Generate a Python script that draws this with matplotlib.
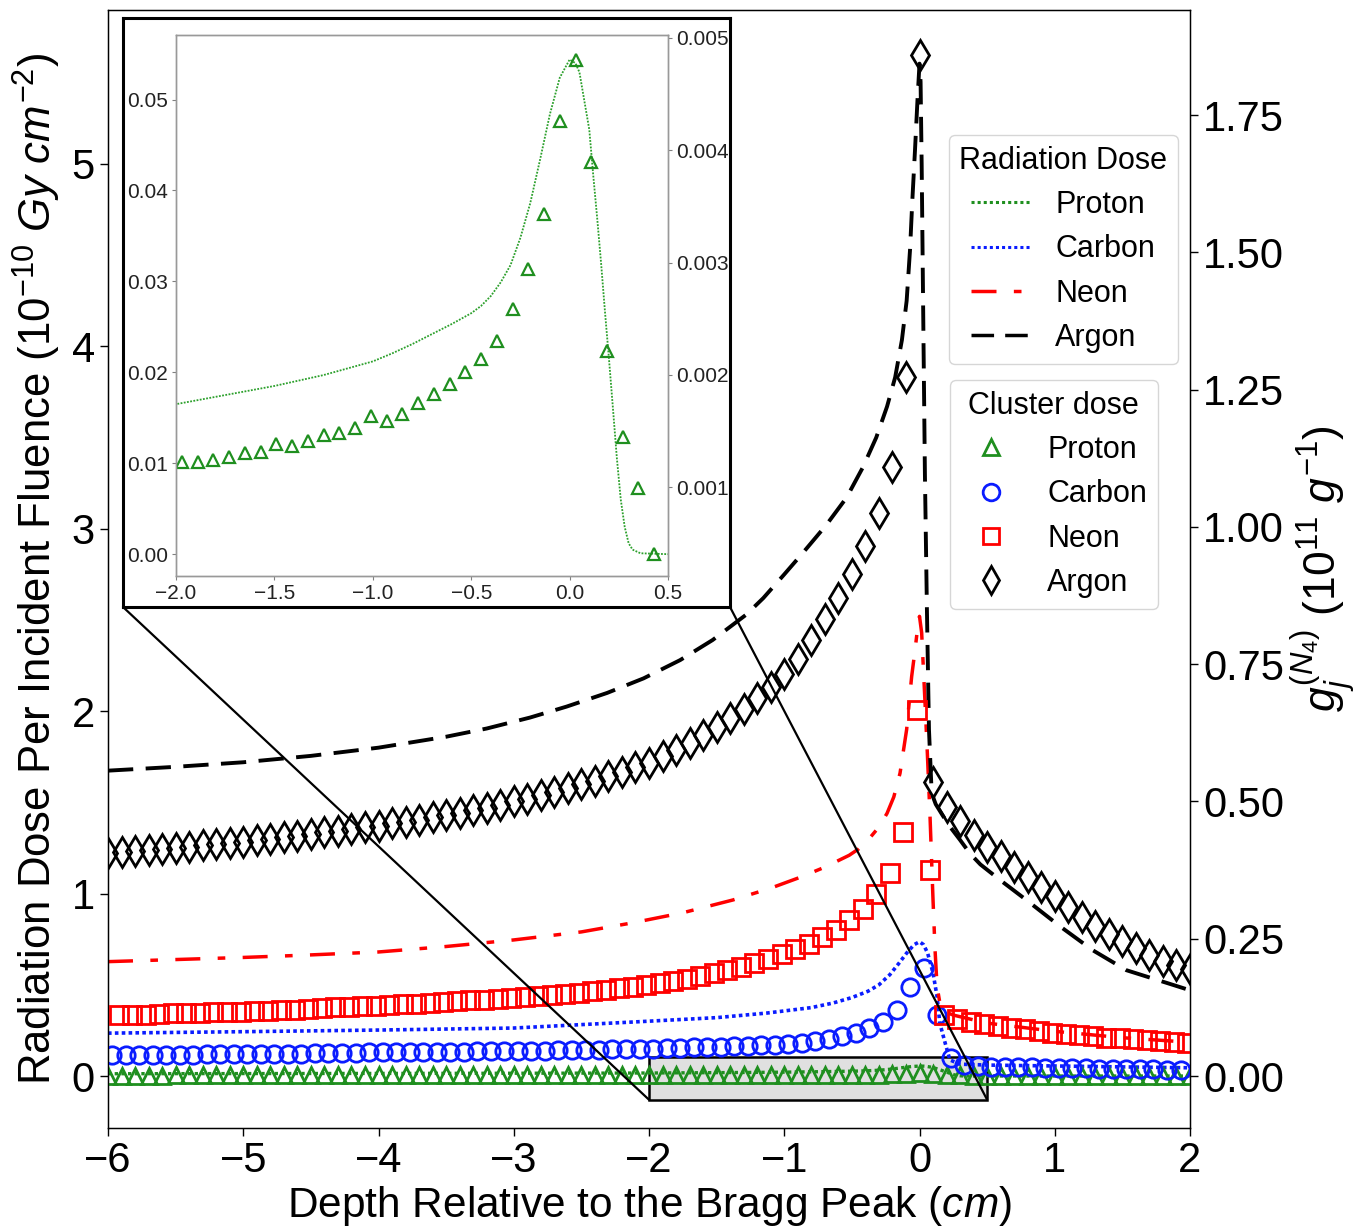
import numpy as np
import matplotlib
matplotlib.use('Agg')
import matplotlib.pyplot as plt
from matplotlib.patches import Rectangle, ConnectionPatch
from matplotlib.lines import Line2D
from matplotlib.ticker import FormatStrFormatter, FuncFormatter

plt.rcParams['font.family'] = ['Liberation Sans', 'DejaVu Sans']
plt.rcParams['mathtext.fontset'] = 'custom'
plt.rcParams['mathtext.rm'] = 'Liberation Sans'
plt.rcParams['mathtext.it'] = 'Liberation Sans:italic'
plt.rcParams['mathtext.bf'] = 'Liberation Sans:bold'

# ---------------- Radiation dose curves (left axis, 1e-10 Gy cm^-2) ----------------
proton_dose_x = [-6.0, -5.0, -4.0, -3.0, -2.5, -2.0, -1.75, -1.5, -1.25, -1.0, -0.9, -0.8,
                 -0.7, -0.6, -0.5, -0.45, -0.4, -0.35, -0.3, -0.25, -0.2, -0.15, -0.1, -0.05,
                 0.0, 0.03, 0.05, 0.1, 0.12, 0.14, 0.16, 0.18, 0.2, 0.22, 0.24, 0.26, 0.28,
                 0.3, 0.32, 0.36, 0.5, 1.0, 2.0]
proton_dose_y = [0.0125, 0.0134, 0.0143, 0.0152, 0.0158, 0.0165, 0.0175, 0.0185, 0.0197, 0.0212,
                 0.0221, 0.0231, 0.0242, 0.0253, 0.0265, 0.0273, 0.0284, 0.0299, 0.0318, 0.0348,
                 0.0386, 0.0434, 0.0484, 0.0524, 0.0544, 0.0540, 0.0530, 0.0467, 0.0417, 0.0370,
                 0.0320, 0.0266, 0.0215, 0.0161, 0.0106, 0.0060, 0.0030, 0.0012, 0.0005, 0.0001,
                 0.0, 0.0, 0.0]

carbon_dose_x = [-6.0, -5.0, -4.0, -3.0, -2.12, -1.5, -1.13, -0.8, -0.64, -0.5, -0.38, -0.3,
                 -0.22, -0.15, -0.095, -0.04, 0.0, 0.03, 0.06, 0.1, 0.13, 0.15, 0.19, 0.225,
                 0.3, 0.5, 1.0, 1.5, 2.0]
carbon_dose_y = [0.235, 0.243, 0.252, 0.263, 0.296, 0.320, 0.345, 0.375, 0.400, 0.430, 0.465, 0.500,
                 0.555, 0.620, 0.674, 0.720, 0.736, 0.720, 0.674, 0.565, 0.435, 0.290, 0.180, 0.088,
                 0.065, 0.060, 0.055, 0.050, 0.045]

neon_dose_x = [-6.0, -5.0, -4.53, -4.0, -3.5, -3.0, -2.5, -2.12, -1.75, -1.38, -1.1, -0.88,
               -0.7, -0.52, -0.45, -0.38, -0.3, -0.24, -0.19, -0.144, -0.095, -0.058, -0.033,
               -0.012, 0.0, 0.016, 0.04, 0.058, 0.078, 0.1, 0.115, 0.13, 0.16, 0.25, 0.5, 1.0,
               1.5, 2.0]
neon_dose_y = [0.627, 0.650, 0.663, 0.680, 0.710, 0.746, 0.790, 0.840, 0.895, 0.965, 1.030, 1.090,
               1.145, 1.210, 1.245, 1.294, 1.365, 1.440, 1.530, 1.660, 1.900, 2.190, 2.335,
               2.470, 2.520, 2.430, 2.060, 1.770, 1.420, 0.965, 0.690, 0.490, 0.360, 0.334, 0.290,
               0.245, 0.210, 0.185]

argon_dose_x = [-6.0, -5.5, -5.0, -4.5, -4.0, -3.5, -3.2, -2.88, -2.61, -2.31, -2.04, -1.77,
                -1.53, -1.28, -1.155, -1.0, -0.86, -0.69, -0.54, -0.42, -0.32, -0.24, -0.18,
                -0.13, -0.095, -0.07, -0.053, -0.033, -0.015, 0.0, 0.008, 0.016, 0.03, 0.04,
                0.055, 0.07, 0.09, 0.12, 0.17, 0.225, 0.3, 0.373, 0.45, 0.595, 0.79, 1.04,
                1.28, 1.53, 1.83, 2.0]
argon_dose_y = [1.674, 1.695, 1.720, 1.755, 1.800, 1.860, 1.905, 1.965, 2.025, 2.100, 2.180, 2.280,
                2.390, 2.530, 2.620, 2.750, 2.870, 3.020, 3.170, 3.335, 3.500, 3.670, 3.830,
                4.035, 4.250, 4.530, 4.800, 5.080, 5.350, 5.550, 5.450, 5.000, 4.000, 3.300,
                2.550, 1.900, 1.550, 1.490, 1.430, 1.367, 1.294, 1.220, 1.160, 1.075, 0.965, 0.820,
                0.690, 0.580, 0.510, 0.470]

# ---------------- Cluster dose markers (right axis, 1e11 g^-1) ----------------
# Argon: depths -6.0 ... 2.0 in steps of 0.1
argon_cluster = [
    0.406, 0.408, 0.410, 0.412, 0.414, 0.416, 0.418, 0.420, 0.423, 0.425,
    0.427, 0.430, 0.432, 0.435, 0.438, 0.441, 0.444, 0.447, 0.450, 0.453,
    0.456, 0.460, 0.463, 0.467, 0.471, 0.475, 0.479, 0.484, 0.489, 0.494,
    0.500, 0.505, 0.511, 0.517, 0.524, 0.531, 0.538, 0.546, 0.554, 0.562,
    0.571, 0.582, 0.594, 0.607, 0.621, 0.636, 0.652, 0.669, 0.688, 0.709,
    0.732, 0.760, 0.795, 0.832, 0.870, 0.915, 0.965, 1.025, 1.110, 1.273,
    1.860, 0.536, 0.490, 0.465, 0.439, 0.418, 0.400, 0.381, 0.363, 0.345,
    0.327, 0.308, 0.290, 0.273, 0.259, 0.246, 0.233, 0.221, 0.210, 0.202,
    0.194]
argon_start = -6.0
# Neon: depths -5.92 ... 1.98 in steps of 0.1
neon_cluster = [
    0.111, 0.112, 0.112, 0.113, 0.114, 0.114, 0.115, 0.116, 0.116, 0.117,
    0.118, 0.119, 0.120, 0.121, 0.122, 0.124, 0.125, 0.126, 0.127, 0.128,
    0.129, 0.131, 0.132, 0.133, 0.135, 0.136, 0.138, 0.139, 0.141, 0.142,
    0.144, 0.146, 0.148, 0.150, 0.152, 0.155, 0.157, 0.160, 0.163, 0.166,
    0.169, 0.173, 0.177, 0.182, 0.187, 0.193, 0.199, 0.206, 0.214, 0.222,
    0.231, 0.241, 0.253, 0.266, 0.284, 0.304, 0.332, 0.370, 0.445, 0.667,
    0.375, 0.111, 0.104, 0.098, 0.094, 0.091, 0.088, 0.085, 0.082, 0.079,
    0.076, 0.074, 0.072, 0.070, 0.069, 0.067, 0.066, 0.064, 0.062, 0.060]
neon_start = -5.92
# Carbon: depths -5.97 ... 1.93 in steps of 0.1
carbon_cluster = [
    0.038, 0.038, 0.038, 0.039, 0.039, 0.039, 0.039, 0.040, 0.040, 0.040,
    0.040, 0.041, 0.041, 0.041, 0.041, 0.042, 0.042, 0.042, 0.042, 0.043,
    0.043, 0.043, 0.043, 0.044, 0.044, 0.044, 0.044, 0.045, 0.045, 0.045,
    0.046, 0.046, 0.046, 0.047, 0.047, 0.048, 0.048, 0.049, 0.049, 0.050,
    0.050, 0.051, 0.051, 0.052, 0.052, 0.053, 0.054, 0.055, 0.056, 0.057,
    0.059, 0.061, 0.064, 0.067, 0.072, 0.078, 0.087, 0.099, 0.120, 0.163,
    0.196, 0.111, 0.033, 0.020, 0.018, 0.017, 0.017, 0.016, 0.016, 0.015,
    0.015, 0.014, 0.014, 0.013, 0.013, 0.013, 0.012, 0.012, 0.011, 0.011]
carbon_start = -5.97
# Proton: depths -6.0 ... 2.0 in steps of 0.1
proton_cluster = [
    0.00090, 0.00091, 0.00092, 0.00092, 0.00093, 0.00094, 0.00094, 0.00095, 0.00096, 0.00096,
    0.00097, 0.00098, 0.00098, 0.00099, 0.00100, 0.00101, 0.00101, 0.00102, 0.00103, 0.00104,
    0.00104, 0.00105, 0.00106, 0.00107, 0.00108, 0.00109, 0.00110, 0.00111, 0.00112, 0.00113,
    0.00114, 0.00115, 0.00116, 0.00117, 0.00118, 0.00119, 0.00120, 0.00120, 0.00121, 0.00122,
    0.00122, 0.00124, 0.00126, 0.00130, 0.00131, 0.00137, 0.00137, 0.00141, 0.00146, 0.00150,
    0.00163, 0.00159, 0.00165, 0.00177, 0.00190, 0.00205, 0.00225, 0.00262, 0.00300, 0.00380,
    0.00480, 0.00410, 0.00240, 0.00110, 0.00050, 0.00020, 0.00012, 0.00010, 0.00009, 0.00008,
    0.00008, 0.00007, 0.00007, 0.00006, 0.00006, 0.00006, 0.00005, 0.00005, 0.00005, 0.00005,
    0.00004]
proton_start = -6.0
# Inset proton cluster dose: depths -1.97 ... 0.43 in steps of 0.08
inset_proton_cluster = [
    0.001222, 0.001229, 0.001246, 0.001270, 0.001304, 0.001314, 0.001382, 0.001365,
    0.001409, 0.001463, 0.001487, 0.001528, 0.001630, 0.001593, 0.001650, 0.001752,
    0.001827, 0.001922, 0.002027, 0.002139, 0.002302, 0.002587, 0.002944, 0.003430,
    0.004258, 0.004801, 0.003895, 0.002214, 0.001450, 0.000992, 0.000407]
inset_start = -1.97
inset_step = 0.08

main_ticks_x = [-6, -5, -4, -3, -2, -1, 0, 1, 2]
main_ticks_left = [0, 1, 2, 3, 4, 5]
main_ticks_right = [0.0, 0.25, 0.5, 0.75, 1.0, 1.25, 1.5, 1.75]
inset_ticks_x = [-2.0, -1.5, -1.0, -0.5, 0.0, 0.5]
inset_ticks_left = [0.0, 0.01, 0.02, 0.03, 0.04, 0.05]
inset_ticks_right = [0.001, 0.002, 0.003, 0.004, 0.005]
species = ['Proton', 'Carbon', 'Neon', 'Argon']


def grid(start, n, step=0.1):
    return np.round(start + step * np.arange(n), 3)


def fmt(nd):
    return FuncFormatter(lambda v, p: f'{v:.{nd}f}'.replace('-', '\u2212'))


GREEN = '#1f8f1f'
BLUE = '#0a1cff'
RED = '#ff0000'
BLACK = '#000000'
NEON_DASH = (0, (7.2, 5.0, 2.2, 5.0))
ARGON_DASH = (0, (6.5, 3.2))

W, H = 1365, 1226
fig = plt.figure(figsize=(W / 100, H / 100), dpi=100)
ax = fig.add_axes([108 / W, 1 - 1128 / H, (1190 - 108) / W, (1128 - 10) / H])
ax2 = ax.twinx()

ax.plot(proton_dose_x, proton_dose_y, color=GREEN, lw=2.4, ls=(0, (1, 1)), zorder=2)
ax.plot(carbon_dose_x, carbon_dose_y, color=BLUE, lw=2.6, ls=(0, (1, 0.9)), zorder=2)
ax.plot(neon_dose_x, neon_dose_y, color=RED, lw=2.5, ls=NEON_DASH, zorder=2)
ax.plot(argon_dose_x, argon_dose_y, color=BLACK, lw=2.8, ls=ARGON_DASH, zorder=2)

ax.add_patch(Rectangle((-2.0, -0.13), 2.5, 0.233, facecolor='#e0e0e0', edgecolor='black',
                       lw=1.8, zorder=1.5))

ax.set_xlim(-6, 2)
ax.set_ylim(-0.285, 5.844)
ax2.set_ylim(-0.285 / 3.01, 5.844 / 3.01)

mk = dict(ls='none', mfc='none')
ax2.plot(grid(proton_start, len(proton_cluster)), proton_cluster, marker='^', ms=12,
         mec=GREEN, mew=2, **mk)
ax2.plot(grid(carbon_start, len(carbon_cluster)), carbon_cluster, marker='o', ms=12.5,
         mec=BLUE, mew=2, **mk)
ax2.plot(grid(neon_start, len(neon_cluster)), neon_cluster, marker='s', ms=13.5,
         mec=RED, mew=2, **mk)
ax2.plot(grid(argon_start, len(argon_cluster)), argon_cluster, marker='d', ms=15,
         mec=BLACK, mew=2, **mk)

ax.set_xticks(main_ticks_x)
ax.set_yticks(main_ticks_left)
ax2.set_yticks(main_ticks_right)
ax2.yaxis.set_major_formatter(FormatStrFormatter('%.2f'))
for a in (ax, ax2):
    a.tick_params(labelsize=30, length=6, width=1)
for s in ax.spines.values():
    s.set_linewidth(1.0)

ax.set_xlabel('Depth Relative to the Bragg Peak ($cm$)', fontsize=30.5, labelpad=2)
ax.set_ylabel('Radiation Dose Per Incident Fluence ($10^{-10}$ $Gy$ $cm^{-2}$)', fontsize=31.5,
              labelpad=6)
ax2.set_ylabel('$g_j^{(N_4)}$ ($10^{11}$ $g^{-1}$)', fontsize=32, labelpad=3)

# legends
line_handles = [
    Line2D([], [], color=GREEN, lw=2.2, ls=(0, (1, 1))),
    Line2D([], [], color=BLUE, lw=2.2, ls=(0, (1, 1))),
    Line2D([], [], color=RED, lw=2.5, ls=NEON_DASH),
    Line2D([], [], color=BLACK, lw=2.5, ls=ARGON_DASH),
]
leg1 = ax2.legend(line_handles, species, title='Radiation Dose', loc='upper right',
                  bbox_to_anchor=((1178 - 108) / 1082, (1128 - 135) / 1118), fontsize=22,
                  title_fontsize=22, handlelength=2.0, handletextpad=0.75, labelspacing=0.47,
                  borderpad=0.35, borderaxespad=0)
ax2.add_artist(leg1)
marker_handles = [
    Line2D([], [], ls='none', marker='^', ms=12, mfc='none', mec=GREEN, mew=2),
    Line2D([], [], ls='none', marker='o', ms=12, mfc='none', mec=BLUE, mew=2),
    Line2D([], [], ls='none', marker='s', ms=12, mfc='none', mec=RED, mew=2),
    Line2D([], [], ls='none', marker='d', ms=14, mfc='none', mec=BLACK, mew=2),
]
leg2 = ax2.legend(marker_handles, species, title='Cluster dose', loc='upper right',
                  bbox_to_anchor=((1158 - 108) / 1082, (1128 - 380) / 1118), fontsize=22,
                  title_fontsize=22, handlelength=2.0, handletextpad=0.85, labelspacing=0.47,
                  borderpad=0.35, borderaxespad=0)

# inset frame
frame = fig.add_axes([123 / W, 1 - 607 / H, (730 - 123) / W, (607 - 18) / H])
frame.set_xticks([])
frame.set_yticks([])
frame.set_facecolor('white')
for s in frame.spines.values():
    s.set_linewidth(2.2)
    s.set_color('black')

axins = fig.add_axes([176 / W, 1 - 576 / H, (668 - 176) / W, (576 - 35) / H])
axins.plot(proton_dose_x, proton_dose_y, color='#2ca02c', lw=1.3, ls=(0, (1, 0.8)))
axins.set_xlim(-2.0, 0.5)
axins.set_ylim(-0.0024, 0.0571)
axins2 = axins.twinx()
axins2.plot(grid(inset_start, len(inset_proton_cluster), inset_step), inset_proton_cluster,
            ls='none', marker='^', ms=9, mfc='none', mec=GREEN, mew=1.6)
axins2.set_ylim(0.00021, 0.005026)
axins.set_xticks(inset_ticks_x)
axins.set_yticks(inset_ticks_left)
axins2.set_yticks(inset_ticks_right)
axins.xaxis.set_major_formatter(fmt(1))
axins.yaxis.set_major_formatter(fmt(2))
axins2.yaxis.set_major_formatter(fmt(3))
for a in (axins, axins2):
    a.tick_params(labelsize=15, length=3, width=0.8, color='0.5', labelcolor='#222222', pad=3)
    for s in a.spines.values():
        s.set_color('0.6')
        s.set_linewidth(1.0)

# connectors
for fx, dx in ((0, -2.0), (1, 0.5)):
    con = ConnectionPatch(xyA=(fx, 0), coordsA=frame.transAxes, xyB=(dx, -0.13),
                          coordsB=ax.transData, color='black', lw=1.6)
    fig.add_artist(con)

fig.savefig('out.png', dpi=100)
